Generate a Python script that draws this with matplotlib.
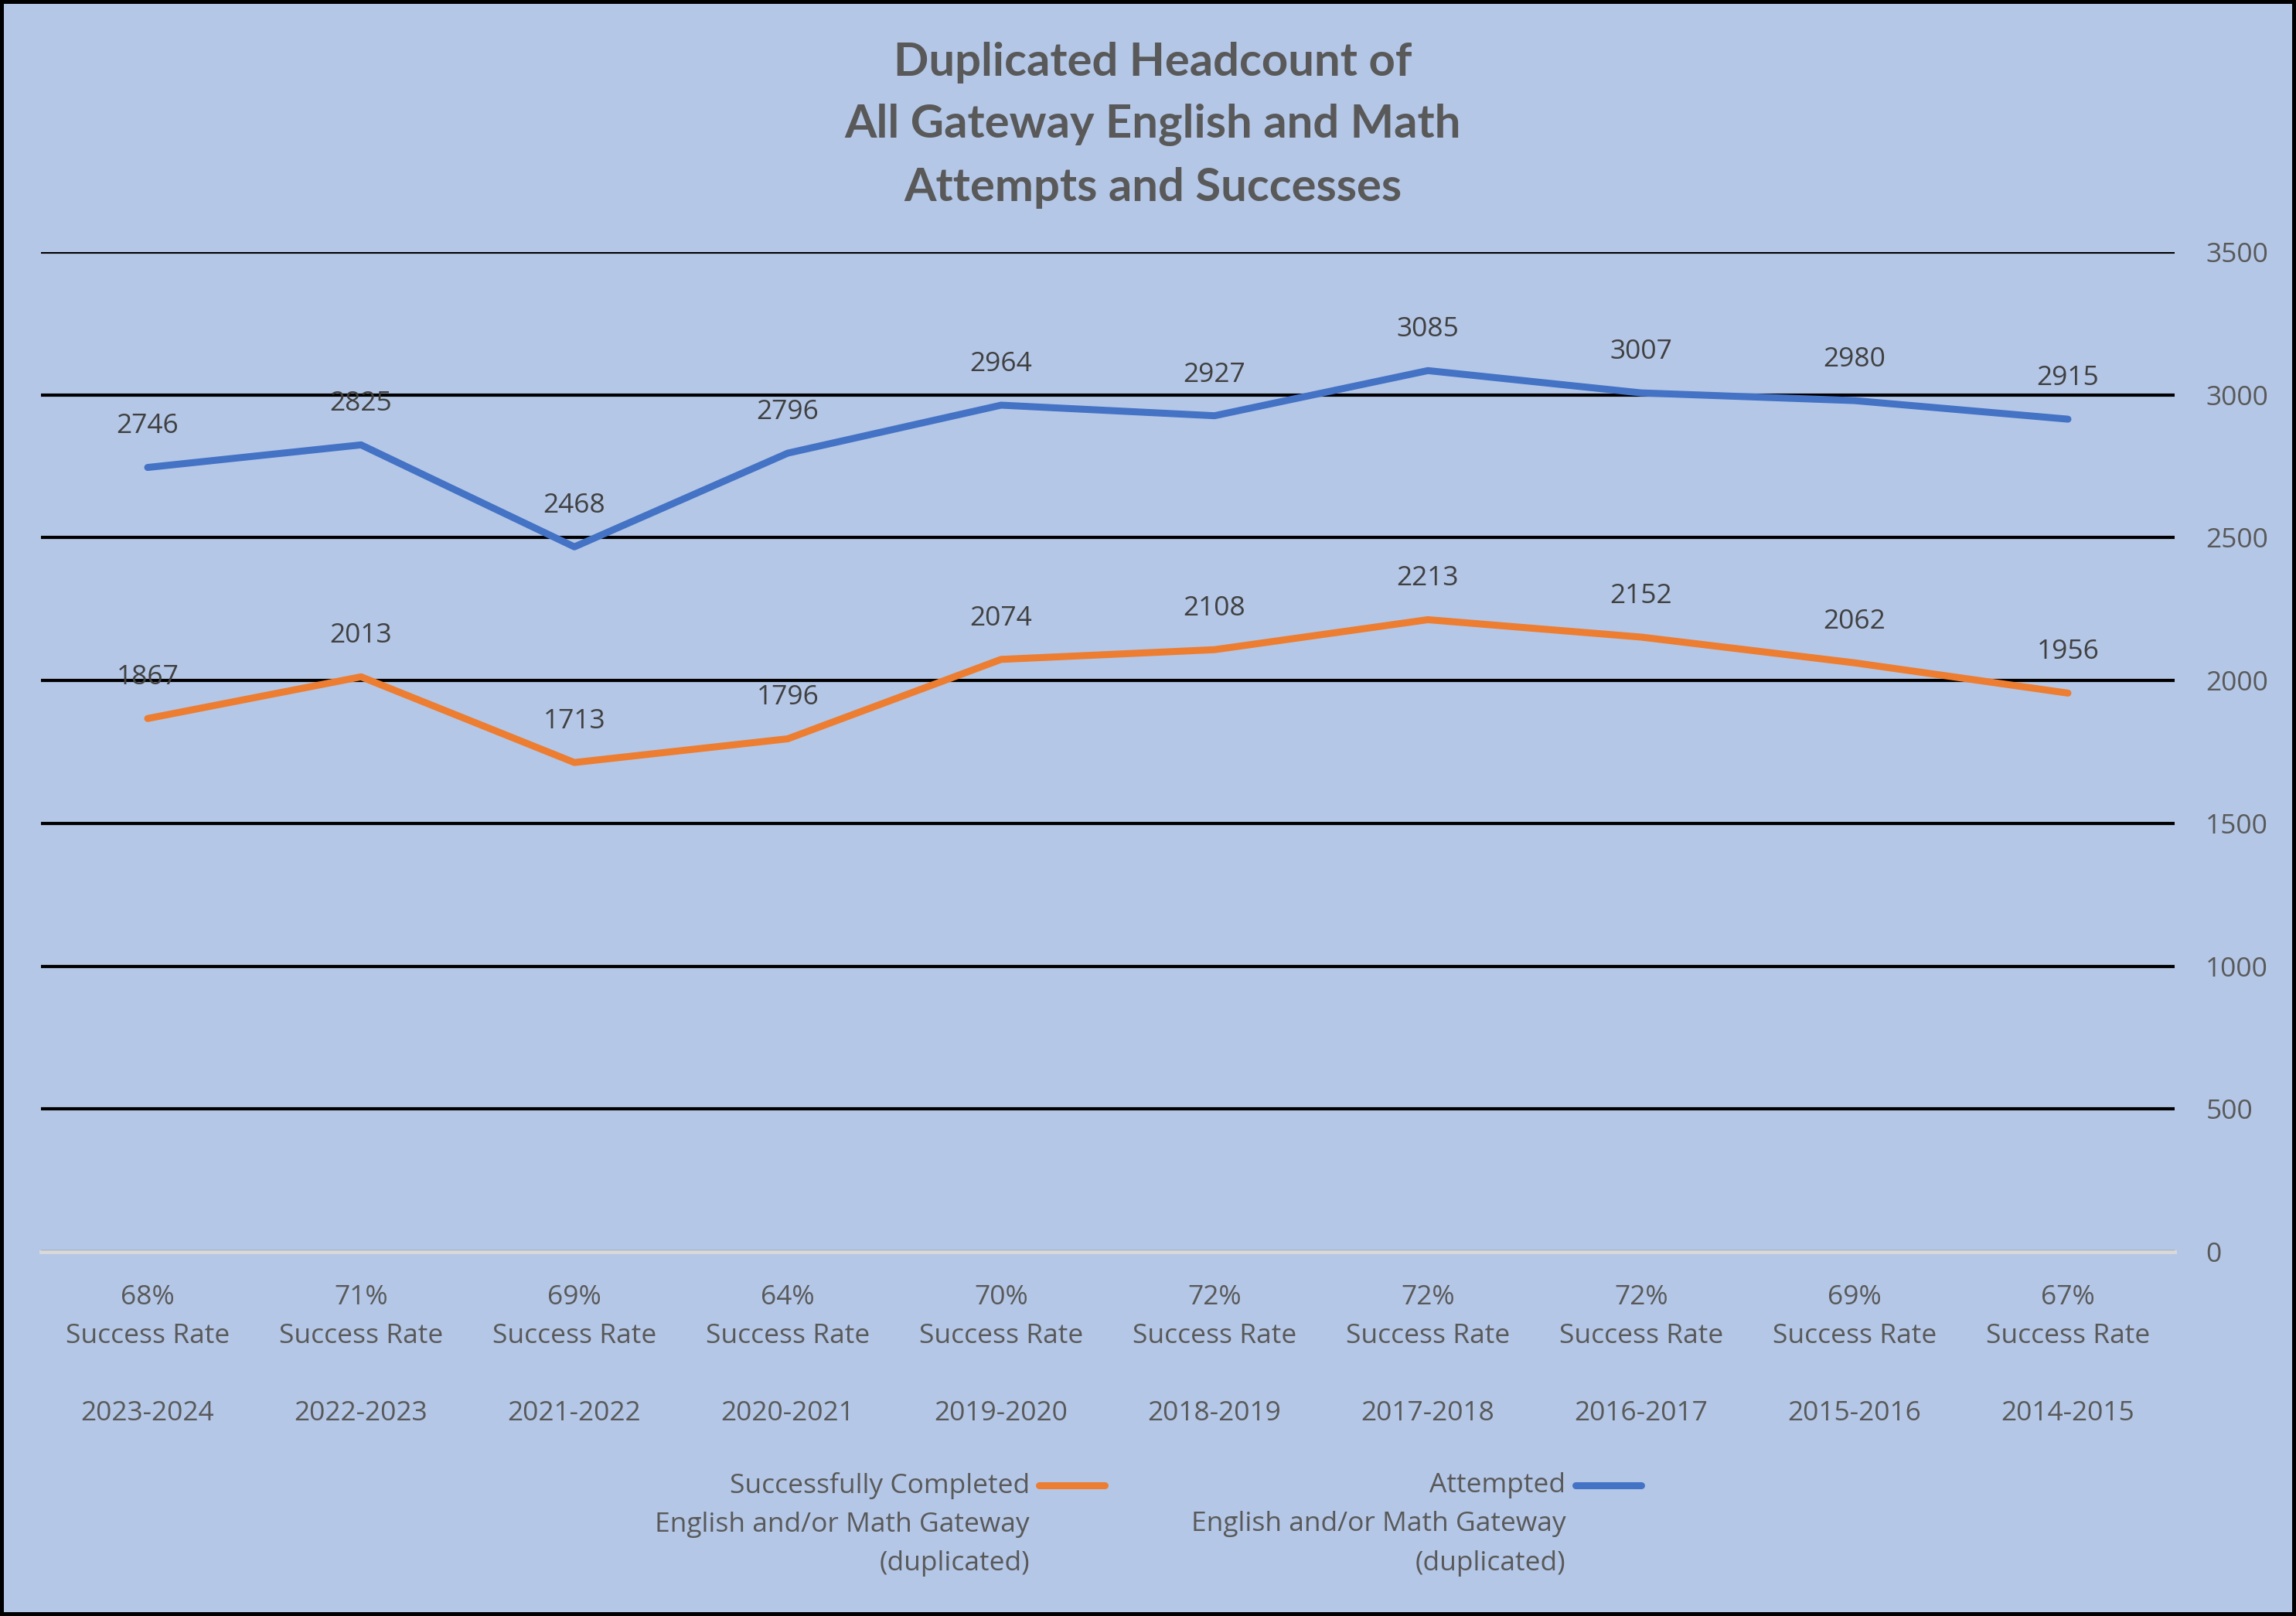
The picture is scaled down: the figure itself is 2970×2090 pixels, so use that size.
import numpy as np
import matplotlib.pyplot as plt
from matplotlib.lines import Line2D
from matplotlib.legend_handler import HandlerLine2D

plt.rcParams['font.family'] = ['Open Sans', 'DejaVu Sans']

# data
years = ['2014-2015', '2015-2016', '2016-2017', '2017-2018', '2018-2019',
         '2019-2020', '2020-2021', '2021-2022', '2022-2023', '2023-2024']
attempted = [2915, 2980, 3007, 3085, 2927, 2964, 2796, 2468, 2825, 2746]
completed = [1956, 2062, 2152, 2213, 2108, 2074, 1796, 1713, 2013, 1867]
success_rate = ['67%', '69%', '72%', '72%', '72%', '70%', '64%', '69%', '71%', '68%']

bg = '#B4C7E7'
blue = '#4472C4'
orange = '#ED7D31'
gray = '#595959'
fs = 25.5
lsp = 1.62


class TopLine(HandlerLine2D):
    # put the legend line next to the first line of a multi-line label
    def create_artists(self, legend, orig_handle, xdescent, ydescent,
                       width, height, fontsize, trans):
        arts = super().create_artists(legend, orig_handle, xdescent, ydescent,
                                      width, height, fontsize, trans)
        for a in arts:
            a.set_ydata(np.asarray(a.get_ydata()) + fontsize * 1.45)
        return arts


fig = plt.figure(figsize=(29.7, 20.9), dpi=100)
fig.patch.set_facecolor(bg)
fig.patch.set_edgecolor('black')
fig.patch.set_linewidth(6)

W, H = 2970, 2090
ax = fig.add_axes([53 / W, 1 - 1619 / H, (2813 - 53) / W, (1619 - 326) / H])
ax.set_facecolor(bg)

x = np.arange(len(years))
l_att, = ax.plot(x, attempted, color=blue, lw=6.5, solid_capstyle='round',
                 solid_joinstyle='round')
l_comp, = ax.plot(x, completed, color=orange, lw=6.5, solid_capstyle='round',
                  solid_joinstyle='round')

for xi, v in zip(x, attempted):
    ax.annotate(str(v), (xi, v), xytext=(0, 26), textcoords='offset points',
                ha='center', va='bottom', fontsize=fs, color='#404040')
for xi, v in zip(x, completed):
    ax.annotate(str(v), (xi, v), xytext=(0, 26), textcoords='offset points',
                ha='center', va='bottom', fontsize=fs, color='#404040')

ax.set_xlim(len(years) - 0.5, -0.5)
ax.set_ylim(0, 3500)
ax.set_yticks(range(0, 3501, 500))
ax.yaxis.tick_right()
ax.tick_params(axis='y', length=0, pad=29, labelsize=fs, labelcolor=gray)

ax.set_xticks(x)
ax.set_xticklabels([f'{r}\nSuccess Rate\n\n{y}' for r, y in zip(success_rate, years)],
                   linespacing=lsp)
ax.tick_params(axis='x', length=0, pad=30, labelsize=fs, labelcolor=gray)

ax.grid(axis='y', color='black', lw=3)
ax.set_axisbelow(True)
for s in ['left', 'right', 'top']:
    ax.spines[s].set_visible(False)
ax.spines['bottom'].set_color('#D9D9D9')
ax.spines['bottom'].set_linewidth(3.5)

fig.text(0.502, 1 - 54 / H,
         'Duplicated Headcount of\nAll Gateway English and Math\nAttempts and Successes',
         ha='center', va='top', fontsize=43, fontweight='bold', color=gray,
         family='Lato', linespacing=1.6)

leg = fig.legend([l_comp, l_att],
                 ['Successfully Completed\nEnglish and/or Math Gateway\n(duplicated)',
                  'Attempted\nEnglish and/or Math Gateway\n(duplicated)'],
                 loc='upper center', bbox_to_anchor=(0.5, 1 - 1872 / H),
                 ncol=2, frameon=False, markerfirst=False, fontsize=fs,
                 handlelength=2.4, handletextpad=0.35, columnspacing=3.15,
                 handler_map={Line2D: TopLine()})
for t in leg.get_texts():
    t.set_multialignment('right')
    t.set_linespacing(lsp)
    t.set_color(gray)

fig.savefig('out.png', dpi=100, facecolor=bg, edgecolor='black')
